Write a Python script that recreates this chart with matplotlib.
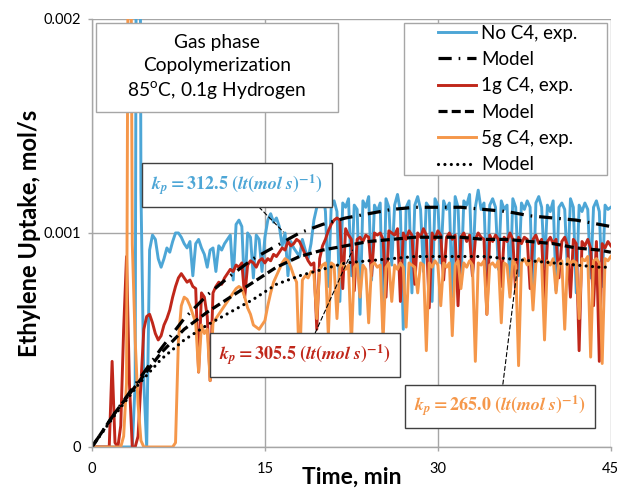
import matplotlib.pyplot as plt
import matplotlib.patches as patches
import numpy as np

plt.rcParams['font.family'] = ['Lato', 'DejaVu Sans']
plt.rcParams['mathtext.fontset'] = 'stix'
plt.rcParams['lines.scale_dashes'] = False

# readings every 15 s, values in 1e-3 mol/s (one row = one minute)
time_min = np.linspace(0, 45, 181)

no_c4 = [
    0, 0, 0, 0,
    0, 0, 0, 0,
    0, 0, 0, 0,
    0, 0, 0, 0.3,
    6.0, 1.2, 0.3, 0.0,
    0.92, 0.99, 0.97, 0.88,
    0.84, 0.88, 0.93, 0.91,
    0.96, 1.0, 1.0, 0.98,
    0.95, 0.93, 0.96, 0.80,
    0.95, 0.97, 0.93, 0.90,
    0.84, 0.92, 0.93, 0.82,
    0.94, 0.92, 0.95, 0.97,
    0.99, 0.78, 1.04, 1.06,
    1.03, 0.72, 1.0, 0.98,
    0.79, 0.99, 0.97, 0.82,
    0.98, 1.06, 1.09, 1.05,
    1.07, 1.03, 0.94, 1.0,
    0.80, 0.96, 0.93, 0.91,
    0.89, 0.97, 0.92, 0.88,
    0.95, 1.06, 1.12, 1.17,
    1.21, 1.1, 0.75, 1.12,
    1.15, 1.1, 0.68, 1.14,
    1.12, 1.16, 0.80, 1.13,
    1.11, 0.62, 1.15, 1.12,
    1.17, 0.78, 1.13, 1.1,
    1.14, 0.55, 1.16, 1.12,
    0.85, 1.13, 1.18, 1.1,
    0.55, 1.12, 1.15, 0.72,
    1.13, 1.17, 1.11, 0.82,
    1.14, 1.12, 0.68, 1.16,
    1.13, 0.86, 1.15, 1.11,
    1.14, 0.70, 1.17, 1.12,
    0.76, 1.15, 1.13, 1.18,
    0.80, 1.12, 1.2, 1.11,
    1.14, 0.74, 1.13, 1.16,
    1.12, 0.83, 1.15, 1.11,
    1.13, 0.72, 1.16, 1.12,
    0.80, 1.14, 1.11, 1.15,
    1.12, 0.69, 1.14, 1.17,
    1.12, 0.84, 1.13, 1.1,
    1.15, 0.73, 1.12, 1.14,
    1.11, 0.81, 1.16, 1.12,
    0.72, 1.13, 1.1, 1.14,
    1.11, 0.79, 1.12, 1.15,
    1.1, 0.75, 1.13, 1.11,
    1.12,
]

c4_1g = [
    0, 0, 0, 0,
    0, 0, 0, 0.40,
    0.02, 0, 0.1, 0.55,
    0.89, 0.3, 0, 0,
    0.05, 0.3, 0.55, 0.61,
    0.62, 0.58, 0.53, 0.5,
    0.52, 0.57, 0.6, 0.64,
    0.70, 0.75, 0.79, 0.81,
    0.79, 0.77, 0.78, 0.75,
    0.74, 0.35, 0.72, 0.70,
    0.61, 0.31, 0.72, 0.75,
    0.77, 0.76, 0.79, 0.81,
    0.83, 0.82, 0.85, 0.84,
    0.86, 0.70, 0.85, 0.87,
    0.86, 0.84, 0.87, 0.88,
    0.86, 0.88, 0.87, 0.90,
    0.89, 0.91, 0.93, 0.92,
    0.96, 0.94, 0.95, 0.97,
    0.96, 0.93, 0.90, 0.87,
    0.85, 0.86, 0.55, 0.88,
    0.94, 0.97, 1.01, 1.04,
    1.06, 1.07, 1.06, 0.74,
    1.02, 0.99, 0.97, 0.73,
    0.97, 0.98, 0.96, 0.99,
    0.98, 0.80, 1.0, 0.99,
    1.0, 0.97, 0.70, 1.01,
    1.0, 0.99, 1.02, 0.68,
    1.0, 0.97, 1.01, 0.99,
    0.76, 1.0, 0.98, 1.02,
    0.99, 0.65, 1.0, 0.97,
    1.01, 0.99, 0.78, 0.98,
    1.0, 0.97, 0.99, 0.66,
    0.98, 1.0, 0.96, 0.99,
    0.80, 0.97, 1.0, 0.98,
    0.97, 0.62, 0.99, 0.96,
    0.99, 0.97, 0.75, 0.98,
    0.96, 1.0, 0.97, 0.72,
    0.98, 0.95, 0.98, 0.97,
    0.74, 0.97, 0.99, 0.95,
    0.97, 0.68, 0.96, 0.98,
    0.95, 0.97, 0.79, 0.96,
    0.98, 0.94, 0.70, 0.97,
    0.95, 0.45, 0.96, 0.94,
    0.97, 0.93, 0.66, 0.96,
    0.40, 0.95, 0.93, 0.96,
    0.94,
]

c4_5g = [
    0, 0, 0, 0,
    0, 0, 0, 0,
    0, 0, 0, 0.05,
    0.3, 4.0, 0.95, 0.5,
    0.2, 0.03, 0, 0,
    0, 0, 0, 0,
    0, 0, 0, 0,
    0, 0.02, 0.5, 0.66,
    0.70, 0.69, 0.66, 0.62,
    0.58, 0.35, 0.57, 0.53,
    0.55, 0.31, 0.58, 0.60,
    0.62, 0.64, 0.66, 0.68,
    0.70, 0.72, 0.74, 0.75,
    0.74, 0.70, 0.65, 0.62,
    0.57, 0.56, 0.55, 0.57,
    0.59, 0.66, 0.72, 0.77,
    0.80, 0.83, 0.86, 0.88,
    0.87, 0.84, 0.80, 0.77,
    0.35, 0.78, 0.80, 0.79,
    0.82, 0.81, 0.60, 0.83,
    0.85, 0.86, 0.52, 0.86,
    0.85, 0.60, 0.84, 0.86,
    0.83, 0.85, 0.48, 0.84,
    0.86, 0.70, 0.85, 0.83,
    0.58, 0.85, 0.86, 0.84,
    0.85, 0.50, 0.84, 0.86,
    0.68, 0.85, 0.83, 0.86,
    0.84, 0.56, 0.86, 0.85,
    0.84, 0.72, 0.86, 0.85,
    0.45, 0.86, 0.84, 0.87,
    0.85, 0.66, 0.86, 0.84,
    0.86, 0.52, 0.85, 0.87,
    0.74, 0.86, 0.84, 0.87,
    0.85, 0.40, 0.86, 0.85,
    0.87, 0.62, 0.85, 0.86,
    0.84, 0.87, 0.58, 0.86,
    0.85, 0.70, 0.87, 0.85,
    0.38, 0.86, 0.88, 0.85,
    0.87, 0.64, 0.86, 0.88,
    0.86, 0.50, 0.87, 0.85,
    0.88, 0.72, 0.86, 0.87,
    0.55, 0.88, 0.86, 0.87,
    0.86, 0.60, 0.88, 0.87,
    0.89, 0.42, 0.87, 0.88,
    0.86, 0.39, 0.88, 0.87,
    0.89,
]

# model predictions, 1e-3 mol/s
model_t = [0, 2, 4, 6, 8, 10, 12, 14, 16, 18, 20, 22, 24, 26, 28, 30,
           32, 34, 36, 38, 40, 42, 44, 45]
model_no_c4 = [0, 0.16, 0.31, 0.46, 0.60, 0.71, 0.80, 0.88, 0.94, 1.00, 1.04, 1.07,
               1.09, 1.11, 1.12, 1.12, 1.12, 1.11, 1.10, 1.08, 1.07, 1.06, 1.04, 1.03]
model_1g = [0, 0.16, 0.30, 0.44, 0.55, 0.63, 0.70, 0.77, 0.84, 0.89, 0.92, 0.94,
            0.96, 0.97, 0.98, 0.98, 0.98, 0.97, 0.97, 0.96, 0.95, 0.93, 0.92, 0.91]
model_5g = [0, 0.15, 0.29, 0.41, 0.50, 0.57, 0.63, 0.69, 0.76, 0.80, 0.83, 0.86,
            0.87, 0.88, 0.89, 0.89, 0.89, 0.89, 0.88, 0.87, 0.86, 0.85, 0.84, 0.84]

kp_values = ['312.5', '305.5', '265.0']

blue = '#4da6d6'
red = '#c0271a'
orange = '#f5974a'
gris = '#a6a6a6'


def kp_label(v):
    return (r'$\mathbfit{k}_{\mathbfit{p}}\mathbf{=' + v + r'\ (}\mathbfit{lt}'
            r'\mathbf{(}\mathbfit{mol\ s}\mathbf{)}^{\mathbf{-1}}\mathbf{)}$')


def main():
    fig = plt.figure(figsize=(6.17, 4.92), dpi=100)
    ax = fig.add_axes([0.149, 0.0915, 0.841, 0.87])

    t = time_min
    l1, = ax.plot(t, np.array(no_c4) * 1e-3, color=blue, lw=2.1)
    l3, = ax.plot(t, np.array(c4_1g) * 1e-3, color=red, lw=2.1)
    l5, = ax.plot(t, np.array(c4_5g) * 1e-3, color=orange, lw=2.1)

    mt = model_t
    l2, = ax.plot(mt, np.array(model_no_c4) * 1e-3, color='black', lw=2.3,
                  dashes=(9.5, 5, 1.2, 5))
    l4, = ax.plot(mt, np.array(model_1g) * 1e-3, color='black', lw=2.3,
                  dashes=(6.5, 3))
    l6, = ax.plot(mt, np.array(model_5g) * 1e-3, color='black', lw=2.3,
                  dashes=(0.01, 4.6), dash_capstyle='round')

    ax.set_xlim(0, 45)
    ax.set_ylim(0, 0.002)
    ax.set_xticks([0, 15, 30, 45])
    ax.set_yticks([0, 0.001, 0.002])
    ax.set_yticklabels(['0', '0.001', '0.002'])
    ax.grid(color=gris, lw=1.0)
    ax.set_axisbelow(True)
    for s in ['top', 'right']:
        ax.spines[s].set_visible(False)
    for s in ['left', 'bottom']:
        ax.spines[s].set_color(gris)
        ax.spines[s].set_linewidth(1.0)
    ax.tick_params(axis='both', colors=gris, length=3, width=1.0, labelsize=10.5,
                   labelcolor='black')
    ax.tick_params(axis='y', pad=5)
    ax.tick_params(axis='x', pad=8)

    ax.set_xlabel('Time, min', fontsize=16.5, fontweight='bold', labelpad=-7)
    ax.set_ylabel('Ethylene Uptake, mol/s', fontsize=17, fontweight='bold', labelpad=2)

    # caixa de condicoes
    caixa = patches.Rectangle((0.008, 0.783), 0.466, 0.208, transform=ax.transAxes,
                              facecolor='white', edgecolor=gris, lw=1.0, zorder=5)
    ax.add_patch(caixa)
    ax.text(0.241, 0.885, 'Gas phase\nCopolymerization\n85$^{\\mathregular{o}}$C, 0.1g Hydrogen',
            transform=ax.transAxes, ha='center', va='center', fontsize=13.8,
            linespacing=1.42, zorder=6)

    # legenda com moldura propria (margem lateral larga)
    moldura = patches.Rectangle((0.601, 0.6355), 0.391, 0.355, transform=ax.transAxes,
                                facecolor='white', edgecolor=gris, lw=1.0, zorder=6)
    ax.add_patch(moldura)
    leg = ax.legend([l1, l2, l3, l4, l5, l6],
                    ['No C4, exp.', 'Model', '1g C4, exp.', 'Model', '5g C4, exp.', 'Model'],
                    loc='upper left', bbox_to_anchor=(0.667, 0.987), fontsize=13.5,
                    frameon=False, handlelength=2.05, handletextpad=0.25,
                    labelspacing=0.5, borderpad=0, borderaxespad=0)
    leg.set_zorder(7)

    # anotacoes de kp
    notas = [
        (blue, (12.6, 0.001224), (16.6, 0.001005)),
        (red, (18.5, 0.00043), (22.6, 0.00092)),
        (orange, (35.4, 0.00019), (36.9, 0.00084)),
    ]
    for v, (cor, pos, alvo) in zip(kp_values, notas):
        ax.annotate(kp_label(v), xy=alvo, xytext=pos, ha='center', va='center',
                    fontsize=13, color=cor, zorder=8,
                    bbox=dict(boxstyle='square,pad=0.5', facecolor='white',
                              edgecolor='#404040', lw=1.0),
                    arrowprops=dict(arrowstyle='-', color='black', lw=0.8,
                                    linestyle=(0, (3, 2)), shrinkA=0, shrinkB=0))

    fig.savefig('out.png', dpi=100)


if __name__ == "__main__":
    main()
